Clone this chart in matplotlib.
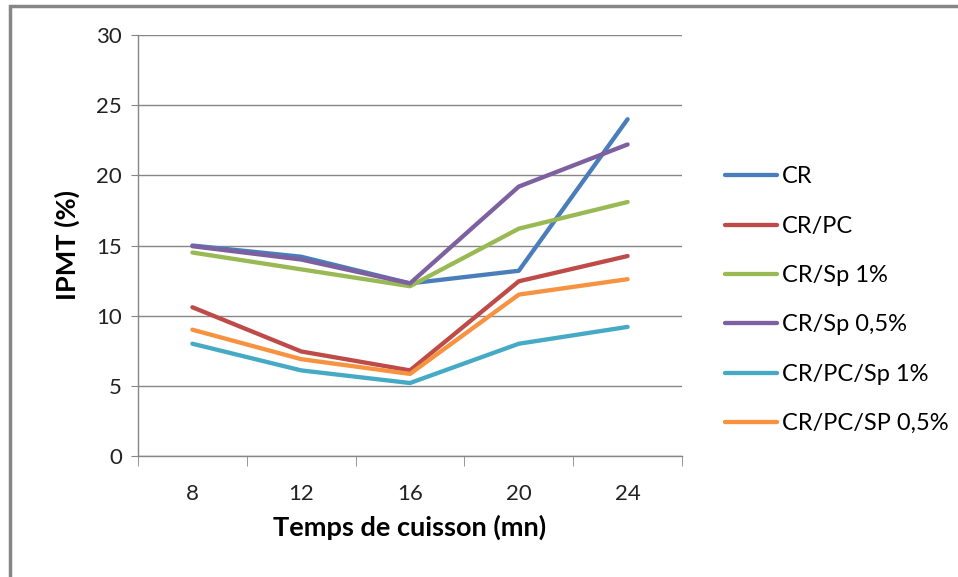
import matplotlib.pyplot as plt
from matplotlib.patches import Rectangle

plt.rcParams['font.family'] = ['Lato', 'DejaVu Sans']

temps = ['8', '12', '16', '20', '24']
cr = [15.0, 14.2, 12.3, 13.2, 24.0]
cr_pc = [10.6, 7.45, 6.1, 12.45, 14.25]
cr_sp1 = [14.5, 13.3, 12.1, 16.2, 18.1]
cr_sp05 = [14.95, 14.0, 12.3, 19.2, 22.2]
cr_pc_sp1 = [8.0, 6.1, 5.2, 8.0, 9.2]
cr_pc_sp05 = [9.0, 6.9, 5.85, 11.5, 12.6]

series = [
    ('CR', cr, '#4A7EBB'),
    ('CR/PC', cr_pc, '#BE4B48'),
    ('CR/Sp 1%', cr_sp1, '#98B954'),
    ('CR/Sp 0,5%', cr_sp05, '#7D60A0'),
    ('CR/PC/Sp 1%', cr_pc_sp1, '#46AAC5'),
    ('CR/PC/SP 0,5%', cr_pc_sp05, '#F69240'),
]

W, H = 958, 577
fig = plt.figure(figsize=(W / 100, H / 100), dpi=100)
ax = fig.add_axes([138 / W, 1 - 456 / H, (682 - 138) / W, (456 - 35) / H])

x = range(len(temps))
for name, vals, col in series:
    ax.plot(x, vals, color=col, lw=3.1, label=name, solid_capstyle='round', solid_joinstyle='round')

grid_col = '#868686'
ax.set_ylim(0, 30)
ax.set_yticks(range(0, 31, 5))
ax.set_xlim(-0.5, len(temps) - 0.5)
ax.set_xticks(list(x))
ax.set_xticklabels(temps)
ax.set_xticks([i - 0.5 for i in range(len(temps) + 1)], minor=True)
ax.yaxis.grid(True, color=grid_col, lw=1)
ax.set_axisbelow(True)

for s in ['top', 'right']:
    ax.spines[s].set_visible(False)
for s in ['left', 'bottom']:
    ax.spines[s].set_color(grid_col)
    ax.spines[s].set_linewidth(1)

ax.tick_params(axis='y', length=5, color=grid_col, labelsize=16, pad=6.5, labelcolor='#222222')
ax.tick_params(axis='x', which='major', length=0, labelsize=16, pad=20, labelcolor='#222222')
ax.tick_params(axis='x', which='minor', length=7, color=grid_col)

ax.set_xlabel('Temps de cuisson (mn)', fontsize=19.5, fontweight='bold', labelpad=8)
ax.set_ylabel('IPMT (%)', fontsize=19.5, fontweight='bold', labelpad=12)

fig.legend(loc='upper left', bbox_to_anchor=(716 / W, 1 - 157 / H), frameon=False,
           fontsize=17, handlelength=2.2, handletextpad=0.2, labelspacing=1.2,
           borderaxespad=0)

fig.patches.append(Rectangle((10 / W, -0.1), 1.2, 1 - 6 / H + 0.1, transform=fig.transFigure,
                             fill=False, edgecolor=grid_col, lw=2.5))

fig.savefig('out.png', dpi=100)
